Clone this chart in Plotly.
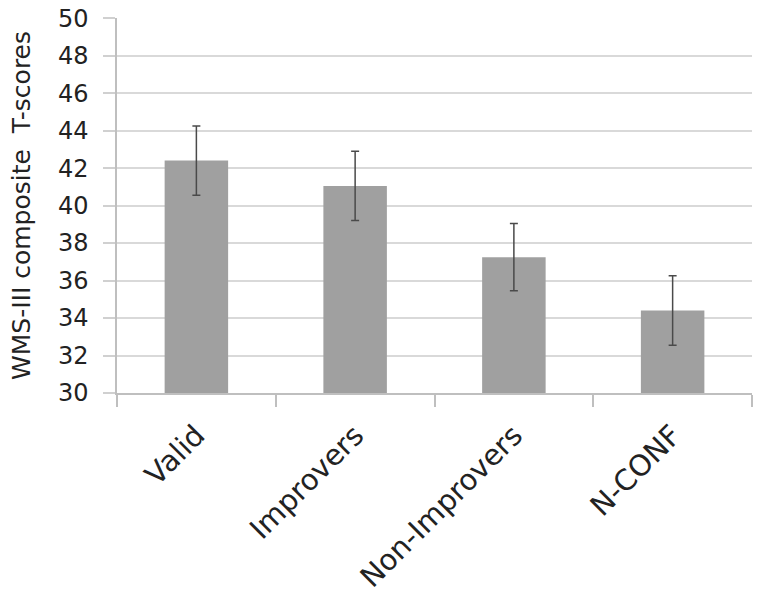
import plotly.graph_objects as go

groups = ["Valid", "Improvers", "Non-Improvers", "N-CONF"]
mean_scores = [42.4, 41.05, 37.25, 34.4]
score_errors = [1.85, 1.85, 1.8, 1.85]
y_ticks = [30, 32, 34, 36, 38, 40, 42, 44, 46, 48, 50]

fig = go.Figure()

fig.add_trace(
    go.Bar(
        x=groups,
        y=mean_scores,
        width=0.4,
        marker=dict(
            color="#a0a0a0",  # mid grey
            line=dict(width=0),
        ),
        error_y=dict(
            type="data",
            array=score_errors,
            visible=True,
            color="#4a4a4a",
            thickness=1.5,
            width=4,
        ),
        showlegend=False,
    )
)

fig.update_layout(
    width=760,
    height=596,
    margin=dict(l=117, r=8, t=18, b=203),
    plot_bgcolor="white",
    paper_bgcolor="white",
    font=dict(family="DejaVu Sans", color="#222222"),
)

fig.update_xaxes(
    automargin=False,
    showline=True,
    linecolor="#bfbfbf",
    linewidth=1.5,
    ticks="outside",
    tickson="boundaries",
    ticklen=12,
    tickcolor="#bfbfbf",
    tickwidth=1.5,
    tickangle=-45,
    tickfont=dict(size=29, color="#222222"),
    ticklabelstandoff=12,
    showgrid=False,
)

fig.update_yaxes(
    automargin=False,
    range=[30, 50.01],
    tickvals=y_ticks,
    ticklabeloverflow="allow",
    showline=True,
    linecolor="#bfbfbf",
    linewidth=1.5,
    ticks="outside",
    ticklen=12,
    tickcolor="#d0d0d0",
    tickwidth=1.5,
    tickfont=dict(size=24, color="#222222"),
    ticklabelstandoff=10,
    showgrid=True,
    gridcolor="#d9d9d9",
    gridwidth=1.5,
    zeroline=False,
    title=dict(
        text="WMS-III composite  T-scores",
        font=dict(size=25, color="#222222"),
        standoff=20,
    ),
)

# drop the default 8px body margin so the figure sits at the page corner
fig.write_html(
    "out.html",
    config={"displayModeBar": False},
    post_script="document.body.style.margin = '0';",
)
